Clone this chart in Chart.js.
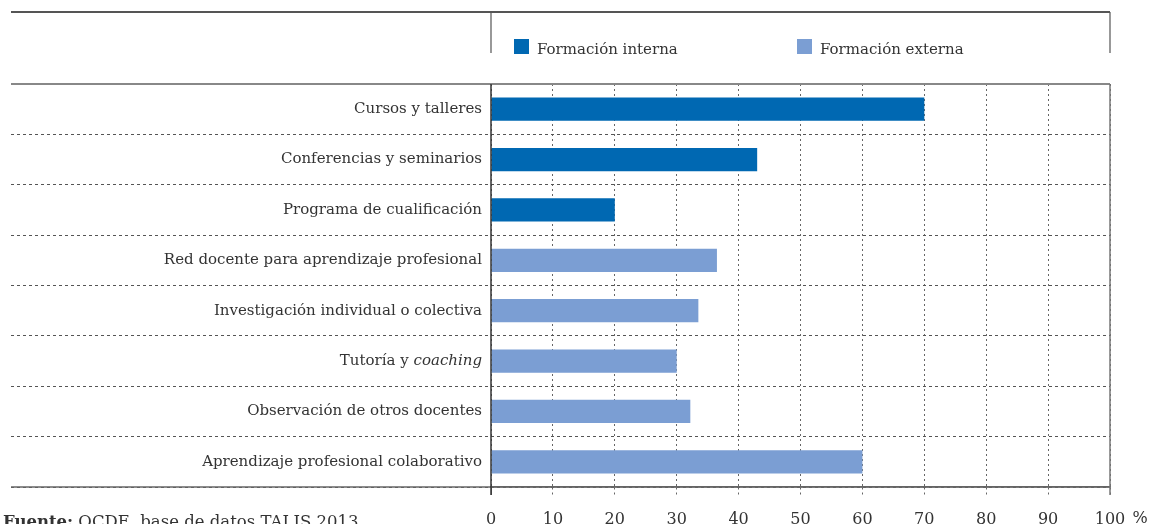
<!DOCTYPE html>
<html>
<head>
<meta charset="utf-8">
<script src="https://cdn.jsdelivr.net/npm/chart.js@4.4.0/dist/chart.umd.min.js"></script>
<style>
  html, body { margin: 0; padding: 0; background: #fff; }
</style>
</head>
<body>
<canvas id="trainingChart" width="1162" height="524"></canvas>
<script>
// Data ----------------------------------------------------------------------->
const categories = [
    "Cursos y talleres",
    "Conferencias y seminarios",
    "Programa de cualificación",
    "Red docente para aprendizaje profesional",
    "Investigación individual o colectiva",
    "Tutoría y coaching",
    "Observación de otros docentes",
    "Aprendizaje profesional colaborativo"
];
const italicWords = ["coaching"];
const seriesNames = ["Formación interna", "Formación externa"];
const internalValues = [70, 43, 20, null, null, null, null, null];
const externalValues = [null, null, null, 36.5, 33.5, 30, 32.2, 60];
const xTicks = [0, 10, 20, 30, 40, 50, 60, 70, 80, 90, 100];
const unitLabel = "%";
const sourceBold = "Fuente:";
const sourceText = " OCDE, base de datos TALIS 2013";

// Style ---------------------------------------------------------------------->
const FONT = "DejaVu Serif";
const TEXT = "#333333";
const colors = ["#0068b2", "#7b9ed3"];

Chart.defaults.font.family = FONT;
Chart.defaults.color = TEXT;

// Draw y labels (with italic words), legend, frame lines and source note
const decorations = {
    id: "decorations",
    afterDraw(chart) {
        const ctx = chart.ctx;
        const area = chart.chartArea;
        const yScale = chart.scales.y;
        const xScale = chart.scales.x;
        ctx.save();

        // frame lines
        ctx.setLineDash([]);
        ctx.strokeStyle = "#555";
        ctx.lineWidth = 2;
        ctx.beginPath();
        ctx.moveTo(11, 12); ctx.lineTo(area.right, 12);
        ctx.stroke();
        ctx.lineWidth = 1.2;
        ctx.beginPath();
        ctx.moveTo(area.left, 12); ctx.lineTo(area.left, 53);
        ctx.moveTo(area.right, 12); ctx.lineTo(area.right, 53);
        ctx.stroke();

        ctx.strokeStyle = "#888";
        ctx.lineWidth = 2;
        ctx.beginPath();
        ctx.moveTo(11, area.top); ctx.lineTo(area.right, area.top);
        ctx.stroke();
        ctx.strokeStyle = "#666";
        ctx.lineWidth = 1.5;
        ctx.beginPath();
        ctx.moveTo(11, area.bottom); ctx.lineTo(area.right, area.bottom);
        ctx.stroke();
        ctx.strokeStyle = "#777";
        ctx.beginPath();
        ctx.moveTo(area.right, area.top); ctx.lineTo(area.right, area.bottom + 8);
        ctx.stroke();
        ctx.strokeStyle = "#333";
        ctx.beginPath();
        ctx.moveTo(area.left, area.top); ctx.lineTo(area.left, area.bottom + 8);
        ctx.stroke();

        // legend
        const legendX = [514, 797];
        chart.data.datasets.forEach((ds, i) => {
            ctx.fillStyle = ds.backgroundColor;
            ctx.fillRect(legendX[i], 39, 15, 15);
            ctx.fillStyle = TEXT;
            ctx.font = "15px '" + FONT + "'";
            ctx.textAlign = "left";
            ctx.textBaseline = "alphabetic";
            ctx.fillText(ds.label, legendX[i] + 23, 54);
        });

        // category labels
        ctx.font = "15px '" + FONT + "'";
        ctx.textBaseline = "middle";
        ctx.textAlign = "left";
        categories.forEach((label, i) => {
            const y = yScale.getPixelForValue(i);
            let right = area.left - 9;
            const word = italicWords.find(w => label.endsWith(w));
            let plain = label;
            if (word) {
                plain = label.slice(0, label.length - word.length);
                ctx.font = "italic 15px '" + FONT + "'";
                const w = ctx.measureText(word).width;
                right -= w;
                ctx.fillStyle = TEXT;
                ctx.fillText(word, right, y);
                ctx.font = "15px '" + FONT + "'";
            }
            const w = ctx.measureText(plain).width;
            ctx.fillStyle = TEXT;
            ctx.fillText(plain, right - w, y);
        });

        // unit
        ctx.font = "16px '" + FONT + "'";
        ctx.textAlign = "center";
        ctx.textBaseline = "alphabetic";
        ctx.fillText(unitLabel, xScale.right + 30, 523);

        // source note
        ctx.textAlign = "left";
        ctx.font = "bold 16.5px '" + FONT + "'";
        ctx.fillText(sourceBold, 3, 527);
        const bw = ctx.measureText(sourceBold).width;
        ctx.font = "16.5px '" + FONT + "'";
        ctx.fillText(sourceText, 3 + bw, 527);

        ctx.restore();
    }
};

// Chart ---------------------------------------------------------------------->
const ctx = document.getElementById("trainingChart").getContext("2d");
new Chart(ctx, {
    type: "bar",
    data: {
        labels: categories,
        datasets: [
            { label: seriesNames[0], data: internalValues, backgroundColor: colors[0] },
            { label: seriesNames[1], data: externalValues, backgroundColor: colors[1] }
        ]
    },
    options: {
        responsive: false,
        animation: false,
        indexAxis: "y",
        layout: { padding: { top: 84, right: 52, left: 0, bottom: 0 } },
        datasets: { bar: { categoryPercentage: 1, barPercentage: 0.46 } },
        plugins: { legend: { display: false }, tooltip: { enabled: false } },
        scales: {
            x: {
                min: 0,
                max: 100,
                afterBuildTicks: s => { s.ticks = xTicks.map(v => ({ value: v })); },
                afterFit: s => { s.height = 37; },
                ticks: { color: TEXT, font: { size: 16 }, padding: 15, autoSkip: false, maxRotation: 0 },
                grid: {
                    color: "#666",
                    lineWidth: 1,
                    tickLength: 8,
                    tickColor: "#666",
                    tickBorderDash: c => (c.tick && c.tick.value === 0 ? [] : [2, 3])
                },
                border: { display: true, color: "#666", width: 1.5, dash: [2, 3] }
            },
            y: {
                stacked: true,
                afterFit: s => { s.width = 491; },
                ticks: { display: false },
                grid: {
                    color: "#555",
                    lineWidth: 1,
                    offset: true,
                    tickLength: 480,
                    tickColor: "#555",
                    tickBorderDash: [3, 3]
                },
                border: { display: false, dash: [3, 3] }
            }
        }
    },
    plugins: [decorations]
});
</script>
</body>
</html>
